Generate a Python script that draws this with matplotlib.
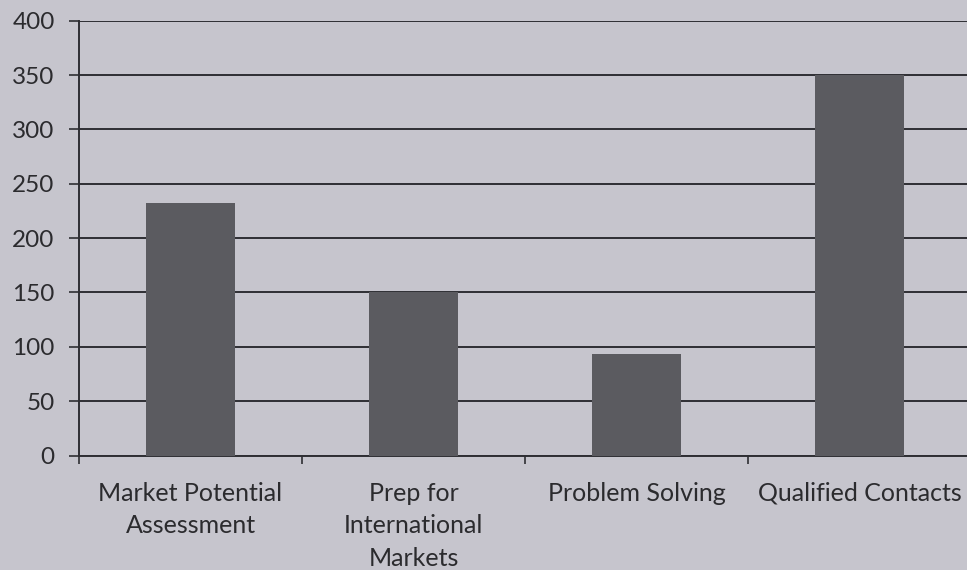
import numpy as np
import matplotlib.pyplot as plt
from matplotlib.ticker import FixedLocator

# Data
categories = ["Market Potential\nAssessment", "Prep for\nInternational\nMarkets",
              "Problem Solving", "Qualified Contacts"]
values = [232, 150, 93, 350]
y_ticks = [0, 50, 100, 150, 200, 250, 300, 350, 400]

bg = "#c6c5cd"
bar_color = "#5b5b60"
ink = "#2b2b2e"

plt.rcParams['font.family'] = ['Lato', 'DejaVu Sans']

fig = plt.figure(figsize=(9.67, 5.70), dpi=100, facecolor=bg)
ax = fig.add_axes([79 / 967, 1 - 455.5 / 570, 892 / 967, 434.8 / 570])
ax.set_facecolor(bg)

x = np.arange(len(categories))
ax.bar(x, values, width=0.4, color=bar_color, zorder=3)

ax.set_xlim(-0.5, len(categories) - 0.5)
ax.set_ylim(0, 400)

# gridlines
ax.set_yticks(y_ticks)
ax.yaxis.grid(True, color="#2e2e33", linewidth=1.4, zorder=1)
ax.tick_params(axis='y', length=7, width=1.2, color="#2e2e33", pad=10.5,
               labelsize=17.5, labelcolor=ink)

# x ticks at category boundaries, labels at centres
ax.xaxis.set_major_locator(FixedLocator(np.arange(-0.5, len(categories), 1.0)))
ax.set_xticklabels([])
ax.xaxis.set_minor_locator(FixedLocator(x))
ax.set_xticklabels(categories, minor=True, fontsize=18, color=ink,
                   linespacing=1.5, va='top')
ax.tick_params(axis='x', which='minor', length=0, pad=19)
ax.tick_params(axis='x', which='major', length=6, width=1.2, color="#2e2e33")

for s in ['top', 'right']:
    ax.spines[s].set_visible(False)
ax.spines['left'].set_color("#2e2e33")
ax.spines['left'].set_linewidth(1.4)
ax.spines['bottom'].set_color("#2e2e33")
ax.spines['bottom'].set_linewidth(1.4)

fig.savefig("out.png", dpi=100, facecolor=bg)
